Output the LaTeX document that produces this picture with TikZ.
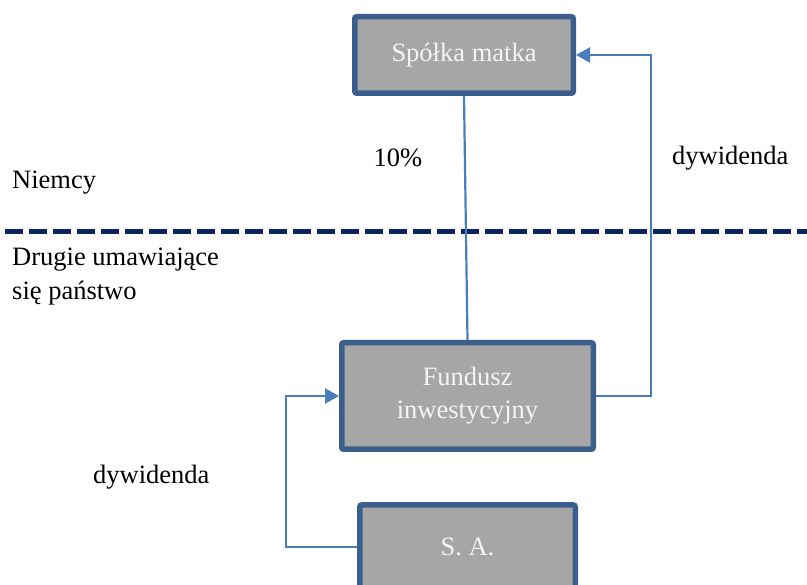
\documentclass[tikz,border=0pt]{standalone}
\usepackage{fontspec}
\setmainfont{Liberation Serif}
\usetikzlibrary{arrows.meta}
\definecolor{boxborder}{HTML}{3B5E8C}
\definecolor{boxfill}{HTML}{A6A6A6}
\definecolor{conn}{HTML}{4A7EBB}
\definecolor{divider}{HTML}{0A2361}
\definecolor{boxtext}{HTML}{F4F4F4}
\tikzset{
  entity/.style={draw=boxborder, fill=boxfill, line width=5.5pt, rounded corners=2pt,
    text=boxtext, font=\fontsize{26.5}{33}\selectfont, align=center, inner sep=0pt},
  lbl/.style={font=\fontsize{26.5}{34}\selectfont, text=black, inner sep=0pt, align=left},
  link/.style={draw=conn, line width=2.2pt},
  flow/.style={link, -{Triangle[length=14pt,width=15pt]}},
}
\begin{document}
\begin{tikzpicture}[x=1pt,y=-1pt]
\useasboundingbox (0,0) rectangle (807,585);
\node[entity, minimum width=218.5pt, minimum height=76.5pt] (spolka) at (464,55) {Spółka matka};
\node[entity, minimum width=251.5pt, minimum height=106.5pt] (fundusz) at (467.5,396) {Fundusz\\inwestycyjny};
\node[entity, minimum width=215.5pt, minimum height=84pt] (sa) at (467.5,547) {S. A.};
\coordinate (divL) at (5,232);
\coordinate (divR) at (810,232);
\draw[divider, line width=5pt, dash pattern=on 18pt off 6pt] (divL) -- (divR);
\node[lbl, anchor=west] (niemcy) at (12,183) {Niemcy};
\node[lbl, anchor=north west] (drugie) at (12,248) {Drugie umawiające\\się państwo};
\node[lbl] (pct) at (398,158) {10\%};
\node[lbl, anchor=west] (dyw1) at (672,158) {dywidenda};
\node[lbl, anchor=west] (dyw2) at (93,477) {dywidenda};
\draw[link] (spolka.south) -- (fundusz.north);
\draw[flow] (fundusz.east) -- ++(55,0) |- (spolka.east);
\draw[flow] (sa.west) -| (286,397) |- (fundusz.west);
\end{tikzpicture}
\end{document}
